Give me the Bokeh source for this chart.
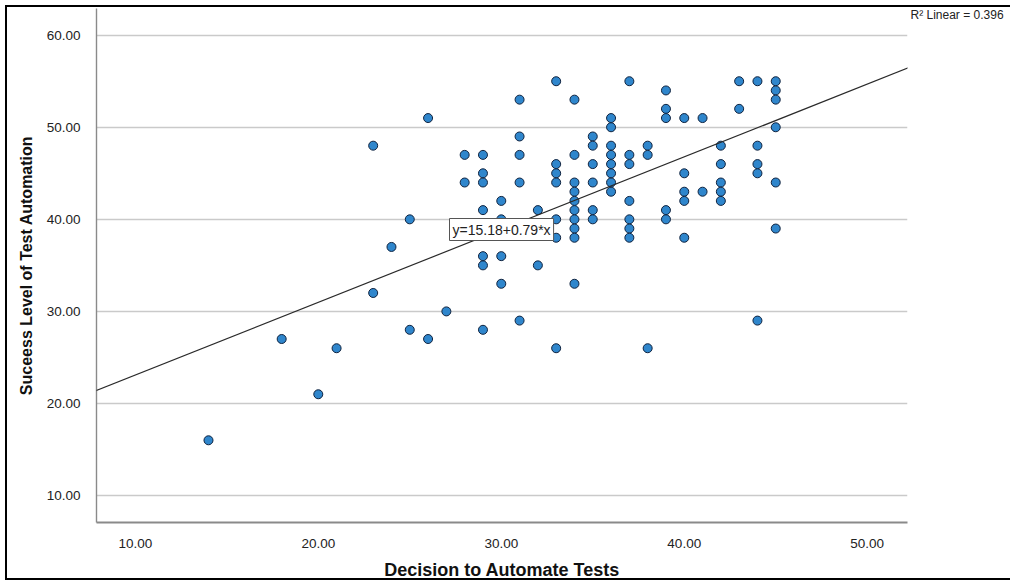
from bokeh.plotting import figure
from bokeh.models import (Slope, Label, FixedTicker, PrintfTickFormatter,
                          ColumnDataSource, InlineStyleSheet)
from bokeh.embed import file_html
from bokeh.resources import INLINE

# Decision to Automate Tests (x) and Success Level of Test Automation (y)
decision = [14, 18, 20, 21, 23, 23, 24, 25, 25, 26, 26, 27, 28, 28,
            29, 29, 29, 29, 29, 29, 29,
            30, 30, 30, 30,
            31, 31, 31, 31, 31,
            32, 32,
            33, 33, 33, 33, 33, 33, 33,
            34, 34, 34, 34, 34, 34, 34, 34, 34, 34,
            35, 35, 35, 35, 35, 35,
            36, 36, 36, 36, 36, 36, 36, 36,
            37, 37, 37, 37, 37, 37, 37,
            38, 38, 38,
            39, 39, 39, 39, 39,
            40, 40, 40, 40, 40,
            41, 41,
            42, 42, 42, 42, 42,
            43, 43,
            44, 44, 44, 44, 44,
            45, 45, 45, 45, 45, 45]
success = [16, 27, 21, 26, 48, 32, 37, 40, 28, 51, 27, 30, 47, 44,
           47, 45, 44, 41, 36, 35, 28,
           42, 40, 36, 33,
           53, 49, 47, 44, 29,
           41, 35,
           55, 46, 45, 44, 40, 38, 26,
           53, 47, 44, 43, 42, 41, 40, 39, 38, 33,
           49, 48, 46, 44, 41, 40,
           51, 50, 48, 47, 46, 45, 44, 43,
           55, 47, 46, 42, 40, 39, 38,
           48, 47, 26,
           54, 52, 51, 41, 40,
           51, 45, 43, 42, 38,
           51, 43,
           48, 46, 44, 43, 42,
           55, 52,
           55, 48, 46, 45, 29,
           55, 54, 53, 50, 44, 39]

x_ticks = [10, 20, 30, 40, 50]
y_ticks = [10, 20, 30, 40, 50, 60]
fit_intercept = 15.18
fit_slope = 0.79
r_squared = 0.396

FONT = "Liberation Sans"

frame_css = (":host { background-color: #ffffff; "
             "box-shadow: inset 5px 5px 0 0 #ffffff, inset 0 -2px 0 0 #ffffff, "
             "inset 7px 7px 0 0 #000000, inset 0 -4px 0 0 #000000; }")

p = figure(width=1010, height=582,
           x_range=(7.88, 52.2), y_range=(7.07, 62.9),
           output_backend="svg", toolbar_location=None,
           min_border_left=96, min_border_right=103,
           min_border_top=8, min_border_bottom=60,
           stylesheets=[InlineStyleSheet(css=frame_css)])
p.outline_line_color = None
p.background_fill_color = "white"
p.border_fill_color = None

# R-squared note at the top right, outside the plot frame
p.title.text = "R\u00b2 Linear = %.3f" % r_squared
p.title.align = "left"
p.title.offset = 814
p.title.vertical_align = "bottom"
p.title.standoff = -26
p.title.text_font = FONT
p.title.text_font_size = "12px"
p.title.text_font_style = "normal"
p.title.text_color = "#222222"

p.xgrid.visible = False
p.ygrid.grid_line_color = "#cacaca"
p.ygrid.grid_line_width = 1.6

for ax in (p.xaxis[0], p.yaxis[0]):
    ax.major_tick_line_color = None
    ax.minor_tick_line_color = None
    ax.major_label_text_font = FONT
    ax.major_label_text_font_size = "13.5px"
    ax.major_label_text_color = "#222222"
    ax.axis_label_text_font = FONT
    ax.axis_label_text_font_style = "bold"
    ax.axis_label_text_color = "#111111"
    ax.axis_line_color = "#8a8a8a"
    ax.formatter = PrintfTickFormatter(format="%.2f")

p.xaxis.ticker = FixedTicker(ticks=x_ticks)
p.yaxis.ticker = FixedTicker(ticks=y_ticks)
p.xaxis.axis_line_width = 2.2
p.yaxis.axis_line_width = 1.4
p.xaxis.major_label_standoff = 10
p.yaxis.major_label_standoff = 10
p.xaxis.axis_label = "Decision to Automate Tests"
p.yaxis.axis_label = "Suceess Level of Test Automation"
p.xaxis.axis_label_text_font_size = "18px"
p.yaxis.axis_label_text_font_size = "16px"
p.xaxis.axis_label_standoff = 9
p.yaxis.axis_label_standoff = 9

src = ColumnDataSource(data=dict(x=decision, y=success))
p.scatter("x", "y", source=src, size=9, marker="circle",
          fill_color="#2f86cc", line_color="#10233f", line_width=1)

p.add_layout(Slope(gradient=fit_slope, y_intercept=fit_intercept,
                   line_color="#2a2a2a", line_width=1.2))

eq = Label(x=353, y=282, x_units="screen", y_units="screen",
           text="y=%.2f+%.2f*x" % (fit_intercept, fit_slope),
           text_font=FONT, text_font_size="14px", text_color="#222222",
           text_align="left", text_baseline="bottom",
           background_fill_color="white", border_line_color="#555555",
           border_line_width=1, padding=3)
p.add_layout(eq)

open("out.html", "w").write(file_html(p, INLINE))
